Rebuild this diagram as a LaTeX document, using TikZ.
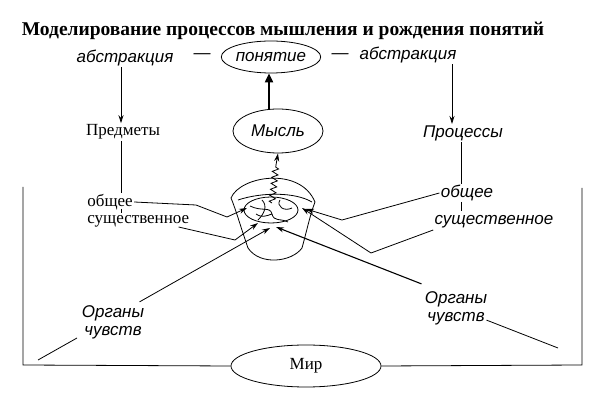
\documentclass[tikz,border=0pt]{standalone}
\usepackage{fontspec}
\setmainfont{Liberation Serif}
\newfontfamily\hand{Liberation Sans}
\usetikzlibrary{arrows.meta,decorations.pathmorphing,shapes.geometric}
\begin{document}
\begin{tikzpicture}[x=1pt,y=-1pt,line width=0.8pt,
  hw/.style={font=\hand\itshape\fontsize{17}{18}\selectfont,inner sep=1pt},
  sr/.style={font=\fontsize{17}{18}\selectfont,inner sep=1pt},
  arr/.style={-{Stealth[length=8pt,width=5pt]}}]
\useasboundingbox (0,0) rectangle (603,411);
\node[font=\bfseries\fontsize{19.5}{20}\selectfont] (title) at (283,31) {Моделирование процессов мышления и рождения понятий};
\node[hw] (abl) at (125,58) {абстракция};
\node[hw] (abr) at (408,55) {абстракция};
\node[hw,draw,ellipse,minimum width=94pt,minimum height=32pt,inner sep=0pt] (pon) at (271,57) {понятие};
\node[hw] (d1) at (202,56) {—};
\node[hw] (d2) at (340,56) {—};
\node[hw,draw,ellipse,minimum width=90pt,minimum height=44pt,inner sep=0pt] (mys) at (278,131) {Мысль};
\node[sr] (pred) at (123,132) {Предметы};
\node[hw] (proc) at (463,133) {Процессы};
\draw[arr] (abl.south -| 121,0) -- (pred.north -| 121,0);
\draw[arr] (abr.south -| 452,0) -- (proc.north -| 452,0);
\draw[-{Triangle[length=9pt,width=8pt]},line width=2pt] (mys.north -| 269,0) -- (pon.south -| 269,0);
% left texts
\node[sr,anchor=west] (ol) at (86,202) {общее};
\node[sr,anchor=west] (sl) at (86,221) {существенное};
\draw (pred.south -| 121,0) -- (121,193);
\draw (121,209) -- (121,213);
\node[hw] (or) at (467,193) {общее};
\node[hw] (sr2) at (494,222) {существенное};
\draw (proc.south -| 461,0) -- (461,184);
\draw (461,202) -- (461,211);
% bowl
\draw (231,198) .. controls (240,176) and (300,166) .. (315,202);
\draw (231,198) .. controls (236,210) and (240,225) .. (248,248) .. controls (260,266) and (292,262) .. (302,248) .. controls (307,230) and (310,215) .. (315,202);
\draw (238,200) .. controls (262,192) and (295,192) .. (312,202);
\node[draw,ellipse,minimum width=54pt,minimum height=26pt] (core) at (271,210) {};
\draw (250,206) .. controls (262,212) and (270,206) .. (272,214) .. controls (274,222) and (280,218) .. (288,222);
\draw (262,200) .. controls (268,206) and (264,214) .. (258,220);
\draw (280,200) .. controls (276,206) and (284,212) .. (292,208);
\draw (272,214) .. controls (266,216) and (262,218) .. (256,214);
\draw[decorate,decoration={zigzag,amplitude=3pt,segment length=6pt}] (272,203) -- (276,165);
\draw[arr] (276,165) -- (mys.south);
% left connectors
\coordinate (lb1) at (227,217); \coordinate (lb2) at (235,240);
\draw[arr] (ol.east) -- (196,205) -- (lb1) -- (247,208);
\draw[arr] (sl.east) ++(-12,6) -- (lb2) -- (258,223);
% right connectors
\coordinate (rb1) at (342,220); \coordinate (rb2) at (371,253);
\draw[arr] (or.west) -- (rb1) -- (306,209);
\draw[arr] (sr2.west) ++(0,8) -- (rb2) -- (302,208);
% organs
\node[hw,align=center] (orgl) at (113,322) {Органы\\чувств};
\node[hw,align=center] (orgr) at (456,308) {Органы\\чувств};
\draw[arr] (orgl.north east) ++(-6,-2) -- (270,228);
\draw[arr,line width=1.1pt] (orgr.north west) ++(-2,-6) -- (276,227);
% world
\node[sr,draw,ellipse,minimum width=150pt,minimum height=42pt] (mir) at (306,366) {Мир};
\draw (23,187) -- (23,365) -- (mir.west);
\draw (mir.east) -- (582,365) -- (582,188);
\draw (38,360) -- (77,338);
\draw (orgr.south east) ++(-2,-6) -- (558,348);
\end{tikzpicture}
\end{document}
